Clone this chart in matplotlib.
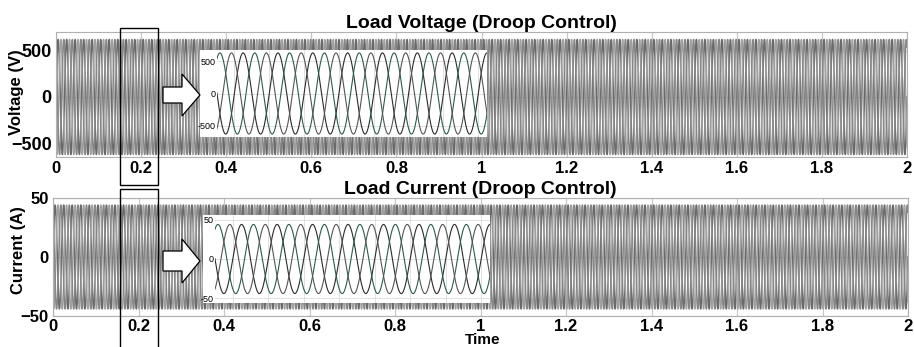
import numpy as np
import matplotlib
matplotlib.use("Agg")
import matplotlib.pyplot as plt
from matplotlib.patches import Rectangle, Polygon

# ---- data ----
freq_hz = 50.0                 # grid frequency
t_end = 2.0                    # simulation length (s)
phase_shifts_deg = [0, -120, 120]
voltage_amp = 625.0            # peak load voltage (V)
current_amp = 44.0             # peak load current (A)
x_ticks = [0, 0.2, 0.4, 0.6, 0.8, 1, 1.2, 1.4, 1.6, 1.8, 2]
x_tick_labels = ["0", "0.2", "0.4", "0.6", "0.8", "1", "1.2", "1.4", "1.6", "1.8", "2"]
v_ticks = [-500, 0, 500]
i_ticks = [-50, 0, 50]
zoom_window = (0.15, 0.305)    # time span shown in the zoomed insets
box_window = (0.15, 0.24)      # marked region

t = np.linspace(0, t_end, 40001)
def three_phase(amp):
    return [amp * np.sin(2 * np.pi * freq_hz * t + np.deg2rad(p)) for p in phase_shifts_deg]

v_phases = three_phase(voltage_amp)
i_phases = three_phase(current_amp)

W, H = 914, 347
fig = plt.figure(figsize=(W / 100, H / 100), dpi=100)
plt.rcParams['font.family'] = ['Liberation Sans', 'DejaVu Sans']

def fx(px):
    return px / W
def fy(py):
    return 1 - py / H

main_colors = ['#6a6a6a', '#a0a0a0', '#868686']
inset_colors = ['#2b2b2b', '#2f5a4c', '#555555']

def main_axes(rect, phases, ylim, yticks, ytick_size, title, title_pad):
    ax = fig.add_axes(rect)
    for ph, c in zip(phases, main_colors):
        ax.plot(t, ph, color=c, lw=1.1)
    ax.set_xlim(0, t_end)
    ax.set_ylim(*ylim)
    ax.set_xticks(x_ticks)
    ax.set_xticklabels(x_tick_labels)
    ax.set_yticks(yticks)
    ax.grid(True, color='#c8c8c8', lw=0.9)
    ax.set_axisbelow(True)
    ax.tick_params(length=0, pad=3)
    for lab in ax.get_xticklabels():
        lab.set_fontsize(12)
        lab.set_fontweight('bold')
    for lab in ax.get_yticklabels():
        lab.set_fontsize(ytick_size)
        lab.set_fontweight('bold')
    for s in ax.spines.values():
        s.set_color('#b0b0b0')
    ax.set_title(title, fontsize=14, fontweight='bold', pad=title_pad)
    return ax

ax1 = main_axes([fx(56), fy(157), fx(907 - 56), (157 - 32) / H], v_phases, (-652, 706),
                v_ticks, 13, "Load Voltage (Droop Control)", 2)
ax2 = main_axes([fx(53), fy(316), fx(908 - 53), (316 - 198) / H], i_phases, (-50, 50),
                i_ticks, 12, "Load Current (Droop Control)", -2)
ax2.tick_params(axis='x', pad=2)

fig.text(fx(17), fy(92), "Voltage (V)", rotation=90, ha='center', va='center',
         fontsize=12, fontweight='bold')
fig.text(fx(19), fy(250), "Current (A)", rotation=90, ha='center', va='center',
         fontsize=12, fontweight='bold')
fig.text(fx(483), fy(347), "Time", ha='center', va='bottom', fontsize=11, fontweight='bold')

def inset(white_px, plot_px, phases, ylim, yticks):
    x0, y0, x1, y1 = white_px
    fig.patches.append(Rectangle((fx(x0), fy(y1)), fx(x1 - x0), (y1 - y0) / H,
                                 transform=fig.transFigure, facecolor='white',
                                 edgecolor='none', zorder=5))
    px0, py0, px1, py1 = plot_px
    ax = fig.add_axes([fx(px0), fy(py1), fx(px1 - px0), (py1 - py0) / H], zorder=6)
    ax.set_facecolor('white')
    for ph, c in zip(phases, inset_colors):
        ax.plot(t, ph, color=c, lw=0.8)
    ax.set_xlim(*zoom_window)
    ax.set_ylim(*ylim)
    ax.set_yticks(yticks)
    ax.set_yticklabels([str(v) for v in yticks])
    ax.set_xticks(np.arange(0.16, 0.31, 0.02))
    ax.set_xticklabels([])
    ax.grid(True, color='#dcdcdc', lw=0.6)
    ax.tick_params(length=0, pad=1, labelsize=6.5)
    for lab in ax.get_yticklabels():
        lab.set_fontfamily(['Liberation Sans Narrow', 'Liberation Sans'])
    for s in ax.spines.values():
        s.set_visible(False)
    return ax

inset((200, 50, 487, 137), (217, 50, 487, 137), v_phases, (-670, 670), v_ticks)
inset((203, 215, 490, 303), (215, 215, 490, 303), i_phases, (-56, 56), i_ticks)

def block_arrow(x0, xh, xt, yc, body_half, head_half):
    pts = [(x0, yc - body_half), (xh, yc - body_half), (xh, yc - head_half), (xt, yc),
           (xh, yc + head_half), (xh, yc + body_half), (x0, yc + body_half)]
    fig.patches.append(Polygon([(fx(a), fy(b)) for a, b in pts], closed=True,
                               transform=fig.transFigure, facecolor='white',
                               edgecolor='black', lw=0.9, zorder=7))

block_arrow(163, 182, 200, 95, 8, 21)
block_arrow(163, 182, 200, 261, 10, 22)

# marked boxes around the zoomed region (x in data units of the main axes)
bx0 = ax1.transData.transform((box_window[0], 0))[0] / (W)
bx1 = ax1.transData.transform((box_window[1], 0))[0] / (W)
fig.patches.append(Rectangle((bx0, fy(185)), bx1 - bx0, (185 - 28) / H,
                             transform=fig.transFigure, fill=False, edgecolor='black',
                             lw=1.0, zorder=8))
fig.patches.append(Rectangle((bx0, fy(360)), bx1 - bx0, (360 - 189) / H,
                             transform=fig.transFigure, fill=False, edgecolor='black',
                             lw=1.0, zorder=8, clip_on=False))

fig.savefig("out.png", dpi=100)
